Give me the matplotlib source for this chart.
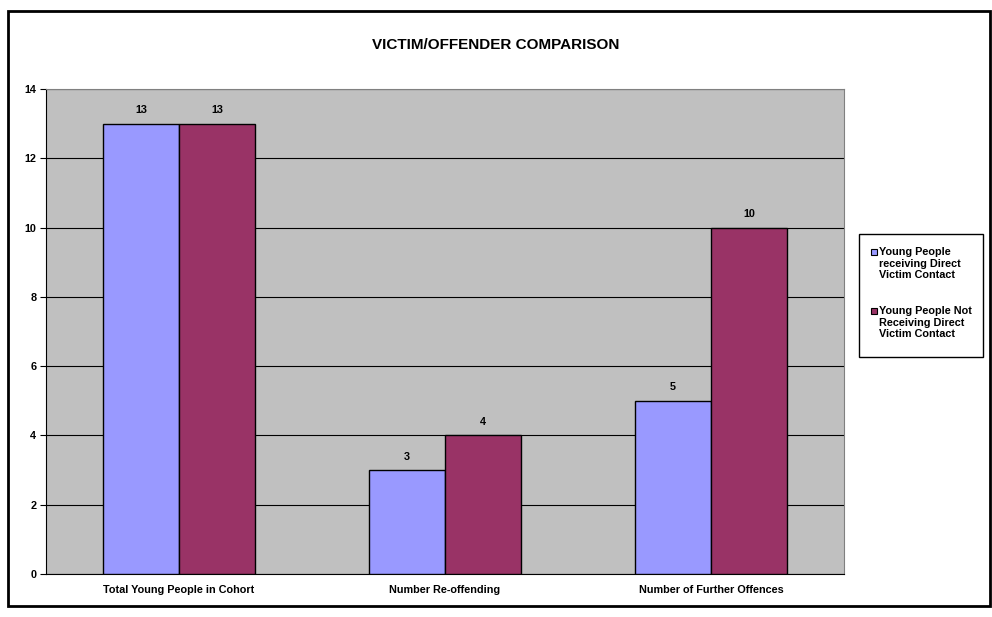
import matplotlib
matplotlib.use('Agg')
import matplotlib.pyplot as plt
from matplotlib.patches import Rectangle
import numpy as np

plt.rcParams['font.family'] = ['Liberation Sans', 'DejaVu Sans']

categories = ['Total Young People in Cohort', 'Number Re-offending', 'Number of Further Offences']
direct_contact = [13, 3, 5]
no_direct_contact = [13, 4, 10]
series_names = ['Young People\nreceiving Direct\nVictim Contact',
                'Young People Not\nReceiving Direct\nVictim Contact']
colors = ['#9999FF', '#993366']

W, H = 992, 617
fig = plt.figure(figsize=(W / 100, H / 100), dpi=100)


def fx(px):
    return px / W


def fy(py):
    return 1 - py / H


# outer chart border
fig.patches.append(Rectangle((fx(8), fy(606)), fx(982), 595 / H, transform=fig.transFigure,
                             fill=False, edgecolor='black', linewidth=2))

ax = fig.add_axes([fx(46), fy(574), fx(844 - 46), (574 - 89) / H])
ax.set_facecolor('#C0C0C0')

x = np.arange(len(categories))
w = 0.286
b1 = ax.bar(x - w / 2, direct_contact, w, color=colors[0], edgecolor='black', linewidth=1, zorder=3)
b2 = ax.bar(x + w / 2, no_direct_contact, w, color=colors[1], edgecolor='black', linewidth=1, zorder=3)
for bars in (b1, b2):
    ax.bar_label(bars, padding=6, fontsize=7.8, fontweight='bold')

ax.set_xlim(-0.5, 2.5)
ax.set_ylim(0, 14)
ax.set_yticks(range(0, 15, 2))
ax.yaxis.grid(True, color='black', linewidth=0.8, zorder=0)
ax.set_axisbelow(True)
ax.set_xticks(x)
ax.set_xticklabels(categories, fontsize=7.8, fontweight='bold')
ax.tick_params(axis='x', length=0, pad=8)
ax.tick_params(axis='y', labelsize=7.8, length=4, pad=3)
for lbl in ax.get_yticklabels():
    lbl.set_fontweight('bold')
ax.spines['top'].set_color('#808080')
ax.spines['right'].set_color('#808080')

fig.text(0.5, fy(45), 'VICTIM/OFFENDER COMPARISON', ha='center', va='center',
         fontsize=11, fontweight='bold')

# legend box, drawn by hand so the swatch sits by the first line of each label
fig.patches.append(Rectangle((fx(859), fy(357)), fx(983 - 859), (357 - 234) / H,
                             transform=fig.transFigure, facecolor='white',
                             edgecolor='black', linewidth=1))
for name, color, mid in zip(series_names, colors, [252, 311]):
    fig.patches.append(Rectangle((fx(871), fy(mid + 3)), fx(6), 6 / H, transform=fig.transFigure,
                                 facecolor=color, edgecolor='black', linewidth=0.8))
    fig.text(fx(879), fy(mid - 5), name, ha='left', va='top', fontsize=7.8,
             fontweight='bold', linespacing=1.2, transform=fig.transFigure)

fig.savefig('out.png', dpi=100)
